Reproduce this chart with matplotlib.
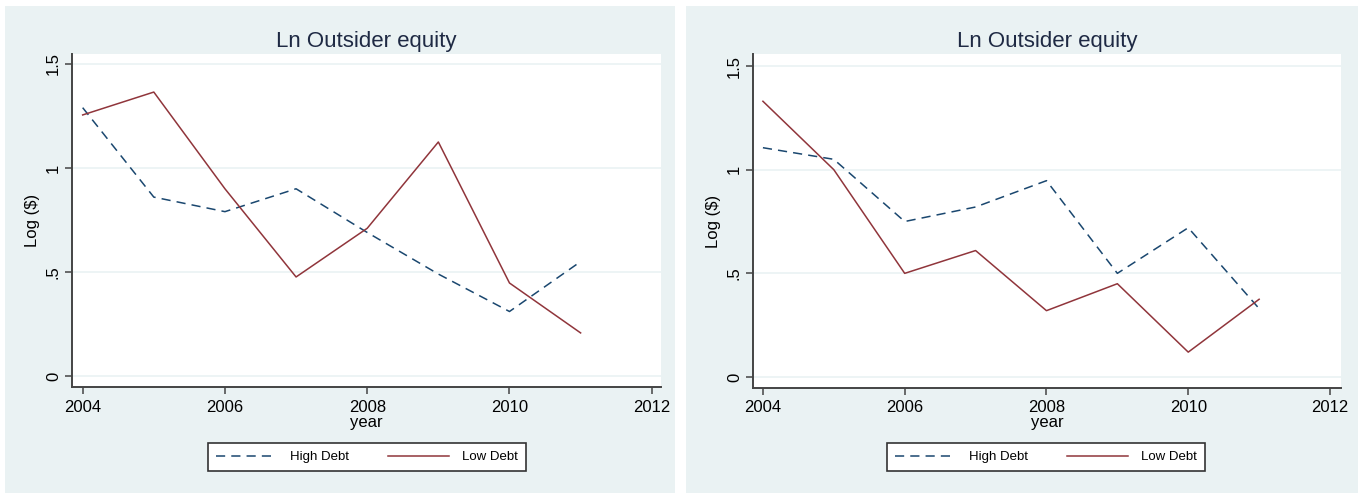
import matplotlib
matplotlib.use("Agg")
import matplotlib.pyplot as plt
from matplotlib.patches import Rectangle

plt.rcParams['font.family'] = ['Liberation Sans', 'DejaVu Sans']

years = [2004, 2005, 2006, 2007, 2008, 2009, 2010, 2011]

# left panel
high_left = [1.29, 0.86, 0.79, 0.90, 0.69, 0.49, 0.31, 0.55]
low_left = [1.255, 1.365, 0.90, 0.476, 0.71, 1.125, 0.447, 0.207]

# right panel
high_right = [1.106, 1.05, 0.75, 0.82, 0.947, 0.50, 0.72, 0.33]
low_right = [1.33, 1.00, 0.50, 0.61, 0.32, 0.45, 0.12, 0.375]

title = "Ln Outsider equity"
ylab = "Log ($)"
xlab = "year"
yticks = [0, 0.5, 1, 1.5]
ytick_labels = ["0", ".5", "1", "1.5"]
xticks = [2004, 2006, 2008, 2010, 2012]
series_names = ["High Debt", "Low Debt"]

W, H = 1367, 494
BG = "#eaf2f3"
NAVY = "#1a476f"
MAROON = "#90353b"

fig = plt.figure(figsize=(W / 100, H / 100), dpi=100)
fig.patch.set_facecolor("white")


def px(x0, y0, x1, y1):
    # pixel box (top-left origin) -> figure fraction rect
    return [x0 / W, 1 - y1 / H, (x1 - x0) / W, (y1 - y0) / H]


def panel(bg_box, ax_box, xlim, ylim, high, low, leg_center):
    r = px(*bg_box)
    fig.patches.append(Rectangle(r[:2], r[2], r[3], transform=fig.transFigure,
                                 facecolor=BG, edgecolor="none", zorder=-5))
    ax = fig.add_axes(px(*ax_box))
    ax.set_facecolor("white")
    l1, = ax.plot(years, high, color=NAVY, lw=1.1, dashes=(6, 4), label=series_names[0])
    l2, = ax.plot(years, low, color=MAROON, lw=1.1, label=series_names[1])
    ax.set_xlim(*xlim)
    ax.set_ylim(*ylim)
    ax.set_xticks(xticks)
    ax.set_yticks(yticks)
    ax.set_yticklabels(ytick_labels, rotation=90, va="center")
    ax.tick_params(axis="both", direction="out", length=5, width=1.1, color="#444444",
                   labelsize=12, labelcolor="black")
    ax.tick_params(axis="y", pad=3)
    ax.tick_params(axis="x", pad=4)
    for s in ["top", "right"]:
        ax.spines[s].set_visible(False)
    for s in ["left", "bottom"]:
        ax.spines[s].set_color("#444444")
        ax.spines[s].set_linewidth(1.4)
    ax.grid(axis="y", color=BG, lw=1.2)
    ax.set_axisbelow(True)
    ax.set_title(title, fontsize=16, color="#1f2a44", pad=5)
    ax.set_ylabel(ylab, fontsize=12, labelpad=4)
    ax.set_xlabel(xlab, fontsize=12, labelpad=0)
    leg = fig.legend(handles=[l1, l2], loc="center",
                     bbox_to_anchor=(leg_center[0] / W, 1 - leg_center[1] / H),
                     ncol=2, fontsize=9.5, frameon=True, fancybox=False,
                     framealpha=1, edgecolor="#333333", handlelength=4.6,
                     columnspacing=3.0, handletextpad=1.0, borderpad=0.6)
    leg.get_frame().set_linewidth(1.2)
    return ax


panel((5, 6, 675, 493), (72, 54, 661, 387), (2003.85, 2012.13), (-0.053, 1.548),
      high_left, low_left, (367, 457))
panel((686, 6, 1358, 493), (753, 54, 1341, 388), (2003.86, 2012.155), (-0.053, 1.558),
      high_right, low_right, (1046, 457))

fig.savefig("out.png", dpi=100)
